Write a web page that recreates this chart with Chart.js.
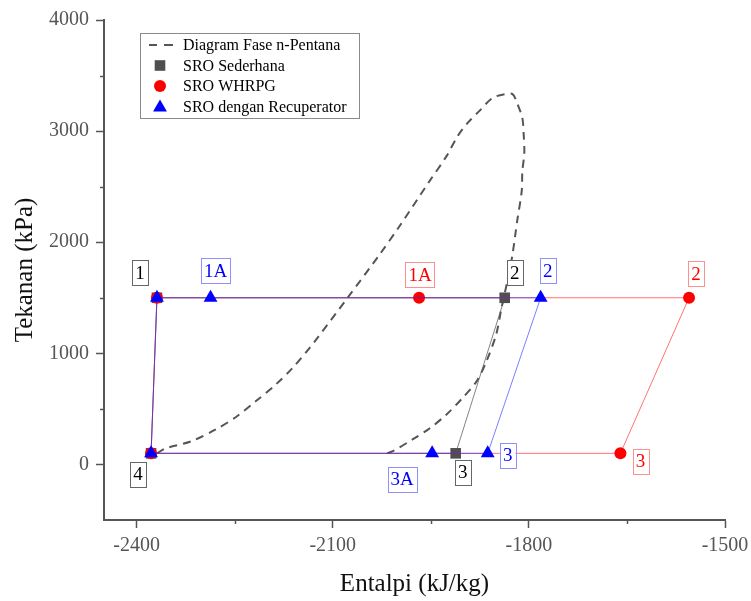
<!DOCTYPE html>
<html>
<head>
<meta charset="utf-8">
<script src="https://cdn.jsdelivr.net/npm/chart.js@4.4.1/dist/chart.umd.min.js"></script>
<style>
html,body{margin:0;padding:0;background:#fff;}
#wrap{width:751px;height:601px;}
</style>
</head>
<body>
<div id="wrap"><canvas id="c" width="751" height="601"></canvas></div>
<script>
// ---------- DATA ----------
const xTickValues = [-2400, -2100, -1800, -1500];
const xMinorTicks = [-2250, -1950, -1650];
const yTickValues = [0, 1000, 2000, 3000, 4000];
const yMinorTicks = [500, 1500, 2500, 3500];

// Phase diagram (saturation dome) of n-Pentane
const domeH = [-2369, -2356, -2317, -2279, -2247, -2218, -2187, -2162, -2136, -2124, -2078, -2028, -1998, -1952, -1926, -1909, -1894, -1876, -1856, -1837,
               -1825, -1818, -1810, -1808, -1807, -1810, -1811, -1818, -1825, -1833, -1842, -1850, -1865, -1880, -1902, -1926, -1952, -1978, -2009, -2018];
const domeP = [99, 144, 207, 315, 432, 568, 721, 865, 1045, 1135, 1495, 1892, 2144, 2550, 2775, 2955, 3072, 3180, 3297, 3333,
               3333, 3252, 3117, 2973, 2802, 2640, 2459, 2189, 1892, 1649, 1405, 1171, 928, 748, 595, 450, 324, 225, 117, 99];

// SRO Sederhana: 1 -> 2 -> 3 -> 4 -> 1
const sederhanaH = [-2369, -1837, -1912, -2378, -2369];
const sederhanaP = [1500, 1500, 100, 100, 1500];
// SRO WHRPG: 1 -> 1A -> 2 -> 3 -> 4 -> 1
const whrpgH = [-2369, -1968, -1555, -1660, -2378, -2369];
const whrpgP = [1500, 1500, 1500, 100, 100, 1500];
// SRO dengan Recuperator: 1 -> 1A -> 2 -> 3 -> 3A -> 4 -> 1
const recupH = [-2369, -2287, -1782, -1863, -1948, -2378, -2369];
const recupP = [1500, 1500, 1500, 100, 100, 100, 1500];

const seriesNames = ['Diagram Fase n-Pentana', 'SRO Sederhana', 'SRO WHRPG', 'SRO dengan Recuperator'];

// State labels: text, dataset index, point index
const labelTexts   = ['1', '4', '2', '3', '1A', '2', '3', '1A', '2', '3', '3A'];
const labelDataset = [1, 1, 1, 1, 2, 2, 2, 3, 3, 3, 3];
const labelPoint   = [0, 3, 1, 2, 1, 2, 3, 1, 2, 3, 4];

// ---------- STYLE ----------
const labelOffsetX = [-17, -13, 10, 7, 1, 7, 20, 5, 7, 20, -30];
const labelOffsetY = [-25, 21, -25, 19, -23, -24, 8, -27, -27, 2, 26];
const labelStyle = {
  1: {text: '#000000', border: '#666666'},
  2: {text: '#ff0000', border: '#ff9090'},
  3: {text: '#0000ff', border: '#9090ff'}
};
const serif = '"Liberation Serif", "Times New Roman", serif';

function pts(h, p) { return h.map((v, i) => ({x: v, y: p[i]})); }
function hideLast(n, r) { return (ctx) => ctx.dataIndex === n - 1 ? 0 : r; }

const datasets = [
  {
    label: seriesNames[0], data: pts(domeH, domeP), showLine: true,
    borderColor: '#555555', borderWidth: 2, borderDash: [8, 6], pointRadius: 0,
    tension: 0.3, order: 4
  },
  {
    label: seriesNames[1], data: pts(sederhanaH, sederhanaP), showLine: true,
    borderColor: 'rgba(90,90,90,0.75)', borderWidth: 1,
    pointStyle: 'rect', pointRadius: hideLast(sederhanaH.length, 7.5),
    pointBackgroundColor: '#4f4f4f', pointBorderColor: '#4f4f4f', pointBorderWidth: 0, order: 3
  },
  {
    label: seriesNames[2], data: pts(whrpgH, whrpgP), showLine: true,
    borderColor: 'rgba(255,40,40,0.65)', borderWidth: 1,
    pointStyle: 'circle', pointRadius: hideLast(whrpgH.length, 6),
    pointBackgroundColor: '#ff0000', pointBorderColor: '#ff0000', pointBorderWidth: 0, order: 2
  },
  {
    label: seriesNames[3], data: pts(recupH, recupP), showLine: true,
    borderColor: 'rgba(40,40,255,0.6)', borderWidth: 1,
    pointStyle: 'triangle', pointRadius: hideLast(recupH.length, 8),
    pointBackgroundColor: '#0000ff', pointBorderColor: '#0000ff', pointBorderWidth: 0, order: 1
  }
];

const minorTicksPlugin = {
  id: 'minorTicks',
  afterDraw(chart) {
    const ctx = chart.ctx, xs = chart.scales.x, ys = chart.scales.y;
    ctx.save();
    ctx.strokeStyle = '#555555';
    ctx.lineWidth = 1.5;
    ctx.beginPath();
    xMinorTicks.forEach(v => {
      const px = Math.round(xs.getPixelForValue(v)) + 0.5;
      ctx.moveTo(px, xs.top); ctx.lineTo(px, xs.top + 4);
    });
    yMinorTicks.forEach(v => {
      const py = Math.round(ys.getPixelForValue(v)) + 0.5;
      ctx.moveTo(ys.right, py); ctx.lineTo(ys.right - 4, py);
    });
    ctx.stroke();
    ctx.restore();
  }
};

const stateLabelPlugin = {
  id: 'stateLabels',
  afterDatasetsDraw(chart) {
    const ctx = chart.ctx;
    ctx.save();
    ctx.font = '19px ' + serif;
    ctx.textAlign = 'center';
    ctx.textBaseline = 'middle';
    labelTexts.forEach((t, i) => {
      const meta = chart.getDatasetMeta(labelDataset[i]);
      const el = meta.data[labelPoint[i]];
      const cx = el.x + labelOffsetX[i], cy = el.y + labelOffsetY[i];
      const w = ctx.measureText(t).width + 6, h = 25;
      const st = labelStyle[labelDataset[i]];
      ctx.fillStyle = '#ffffff';
      ctx.fillRect(cx - w / 2, cy - h / 2, w, h);
      ctx.strokeStyle = st.border;
      ctx.lineWidth = 1;
      ctx.strokeRect(Math.round(cx - w / 2) + 0.5, Math.round(cy - h / 2) + 0.5, Math.round(w), h);
      ctx.fillStyle = st.text;
      ctx.fillText(t, cx, cy + 1);
    });
    ctx.restore();
  }
};

const legendPlugin = {
  id: 'boxLegend',
  afterDraw(chart) {
    const ctx = chart.ctx;
    const bx = 140, by = 33, bw = 219, bh = 85;
    ctx.save();
    ctx.fillStyle = '#ffffff';
    ctx.fillRect(bx, by, bw, bh);
    ctx.strokeStyle = '#8a8a8a';
    ctx.lineWidth = 1;
    ctx.strokeRect(bx + 0.5, by + 0.5, bw, bh);
    const sx = 160, tx = 183;
    seriesNames.forEach((name, i) => {
      const y = 45 + i * 20.5;
      const ds = chart.data.datasets[i];
      if (i === 0) {
        ctx.strokeStyle = '#555555';
        ctx.lineWidth = 2;
        ctx.beginPath();
        ctx.moveTo(149, y); ctx.lineTo(157, y);
        ctx.moveTo(164, y); ctx.lineTo(173, y);
        ctx.stroke();
      } else {
        ctx.fillStyle = ds.pointBackgroundColor;
        ctx.strokeStyle = ds.pointBackgroundColor;
        ctx.lineWidth = 0;
        Chart.helpers.drawPoint(ctx, {pointStyle: ds.pointStyle, radius: i === 1 ? 7.5 : (i === 2 ? 6 : 8), borderWidth: 0, rotation: 0}, sx, y + (i === 3 ? 1 : 0));
      }
      ctx.font = '16px ' + serif;
      ctx.textAlign = 'left';
      ctx.textBaseline = 'middle';
      ctx.fillStyle = '#000000';
      ctx.fillText(name, tx, y + 1);
    });
    ctx.restore();
  }
};

const plainNum = (v) => String(v);

new Chart(document.getElementById('c'), {
  type: 'scatter',
  data: {datasets},
  options: {
    responsive: false,
    animation: false,
    events: [],
    layout: {padding: {top: 20, right: 26, left: 0, bottom: 0}},
    plugins: {legend: {display: false}, tooltip: {enabled: false}},
    scales: {
      x: {
        type: 'linear', min: -2450, max: -1500,
        afterBuildTicks(s) { s.ticks = xTickValues.map(v => ({value: v})); },
        afterFit(s) { s.height = 81; s.paddingLeft = 0; s.paddingRight = 0; },
        ticks: {font: {family: serif, size: 20}, color: '#555555', padding: 6, maxRotation: 0, autoSkip: false, callback: plainNum},
        grid: {display: true, drawOnChartArea: false, drawTicks: true, tickLength: 8, tickColor: '#555555', tickWidth: 1.5},
        border: {display: true, color: '#555555', width: 2},
        title: {display: true, text: 'Entalpi (kJ/kg)', font: {family: serif, size: 25}, color: '#111111', padding: {top: 0, bottom: 2}}
      },
      y: {
        type: 'linear', min: -500, max: 4000,
        afterBuildTicks(s) { s.ticks = yTickValues.map(v => ({value: v})); },
        afterFit(s) { s.width = 104; s.paddingTop = 0; s.paddingBottom = 0; },
        ticks: {font: {family: serif, size: 20}, color: '#555555', padding: 7, autoSkip: false, callback: plainNum},
        grid: {display: true, drawOnChartArea: false, drawTicks: true, tickLength: 8, tickColor: '#555555', tickWidth: 1.5},
        border: {display: true, color: '#555555', width: 2},
        title: {display: true, text: 'Tekanan (kPa)', font: {family: serif, size: 25}, color: '#111111', padding: {top: 10, bottom: 0}}
      }
    }
  },
  plugins: [minorTicksPlugin, stateLabelPlugin, legendPlugin]
});
</script>
</body>
</html>
